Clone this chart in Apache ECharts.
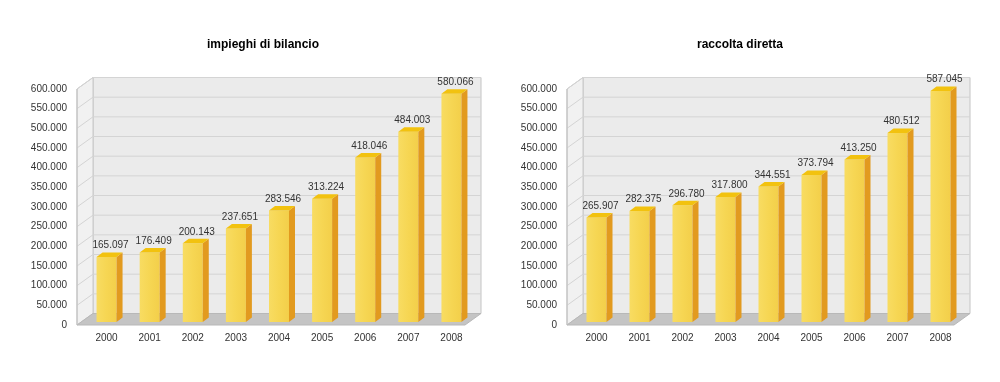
<!DOCTYPE html>
<html><head><meta charset="utf-8">
<script src="https://cdn.jsdelivr.net/npm/echarts@6/dist/echarts.min.js"></script>
<style>html,body{margin:0;padding:0;background:#fff}#c{width:1000px;height:382px}</style>
</head><body><div id="c"></div>
<script>
const years = ['2000','2001','2002','2003','2004','2005','2006','2007','2008'];
const impieghi = [165097,176409,200143,237651,283546,313224,418046,484003,580066];
const raccolta = [265907,282375,296780,317800,344551,373794,413250,480512,587045];
const titles = ['impieghi di bilancio','raccolta diretta'];
const Y_MIN = 0, Y_MAX = 600000, Y_STEP = 50000;

const DX = 16, DY = 11.5;          // wall depth offset
const BAR_DX = 8, BAR_DY = -3;     // bar placement within depth
const BW = 20, BSD = 6, BSH = 4.5; // bar front width, side depth
const FONT = '"Liberation Sans", Arial, sans-serif';

function fmt(v){ return String(v).replace(/\B(?=(\d{3})+(?!\d))/g,'.'); }

function wallsRender(params, api){
  const cs = params.coordSys;
  const x0 = cs.x, x1 = cs.x + cs.width, yT = cs.y, yB = cs.y + cs.height;
  const ch = [];
  ch.push({type:'polygon', shape:{points:[[x0+DX,yT-DY],[x1+DX,yT-DY],[x1+DX,yB-DY],[x0+DX,yB-DY]]},
    style:{fill:'#ebebeb', stroke:'#c4c4c4', lineWidth:1}});
  ch.push({type:'polygon', shape:{points:[[x0,yT],[x0+DX,yT-DY],[x0+DX,yB-DY],[x0,yB]]},
    style:{fill:'#f1f1f1', stroke:'#c8c8c8', lineWidth:1}});
  for (let v = Y_MIN + Y_STEP; v <= Y_MAX; v += Y_STEP){
    const y = api.coord([0, v])[1];
    ch.push({type:'polyline', shape:{points:[[x0,y],[x0+DX,y-DY],[x1+DX,y-DY]]},
      style:{stroke:'#d4d4d4', lineWidth:1, fill:null}});
  }
  ch.push({type:'polygon', shape:{points:[[x0,yB],[x0+DX,yB-DY],[x1+DX,yB-DY],[x1,yB]]},
    style:{fill:'#c4c4c4', stroke:'#b8b8b8', lineWidth:1}});
  ch.push({type:'line', shape:{x1:x0,y1:yT,x2:x0,y2:yB}, style:{stroke:'#c0c0c0', lineWidth:1}});
  return {type:'group', children:ch};
}

function barRender(params, api){
  const i = api.value(0), v = api.value(1);
  const pt = api.coord([i, v]), pb = api.coord([i, 0]);
  const xl = pt[0] + BAR_DX - BW/2, xr = xl + BW;
  const yt = pt[1] + BAR_DY, yb = pb[1] + BAR_DY;
  return {type:'group', children:[
    {type:'rect', shape:{x:xl, y:yt, width:BW, height:yb-yt},
      style:{fill:{type:'linear',x:0,y:0,x2:1,y2:0,colorStops:[
        {offset:0,color:'#f8dc62'},{offset:0.5,color:'#f6d653'},{offset:1,color:'#f3cf4a'}]}}},
    {type:'polygon', shape:{points:[[xr,yt],[xr+BSD,yt-BSH],[xr+BSD,yb-BSH],[xr,yb]]},
      style:{fill:'#e29a1f'}},
    {type:'polygon', shape:{points:[[xl,yt],[xl+BSD,yt-BSH],[xr+BSD,yt-BSH],[xr,yt]]},
      style:{fill:'#f2c20f'}},
    {type:'text', style:{text:fmt(v), x:(xl+xr+BSD)/2+1, y:yt-BSH-2, align:'center', verticalAlign:'bottom',
      fill:'#333', font:'10px ' + FONT}}
  ]};
}

const grids = [
  {left:77, top:89, width:388, height:236},
  {left:567, top:89, width:387, height:236}
];
const datasets = [impieghi, raccolta];
const titleX = [263, 740];

const option = {
  animation:false,
  backgroundColor:'#fff',
  grid: grids,
  xAxis: grids.map((g,k)=>({type:'category', gridIndex:k, data:years,
    axisLine:{show:false}, axisTick:{show:false}, splitLine:{show:false},
    axisLabel:{color:'#333', fontSize:10, fontFamily:FONT, margin:8, padding:[0,0,0,16]}})),
  yAxis: grids.map((g,k)=>({type:'value', gridIndex:k, min:Y_MIN, max:Y_MAX, interval:Y_STEP,
    axisLine:{show:false}, axisTick:{show:false}, splitLine:{show:false},
    axisLabel:{color:'#333', fontSize:10, fontFamily:FONT, margin:10, formatter:fmt}})),
  graphic: titles.map((t,k)=>({type:'text', x:titleX[k], y:45,
    style:{text:t, align:'center', verticalAlign:'middle', fill:'#000', font:'bold 12px ' + FONT}})),
  series: [].concat(
    datasets.map((d,k)=>({type:'custom', xAxisIndex:k, yAxisIndex:k, z:1, silent:true,
      renderItem:wallsRender, data:[[0,0]]})),
    datasets.map((d,k)=>({type:'custom', xAxisIndex:k, yAxisIndex:k, z:2,
      renderItem:barRender, data:d.map((v,i)=>[i,v])}))
  )
};
echarts.init(document.getElementById('c')).setOption(option);
</script></body></html>
